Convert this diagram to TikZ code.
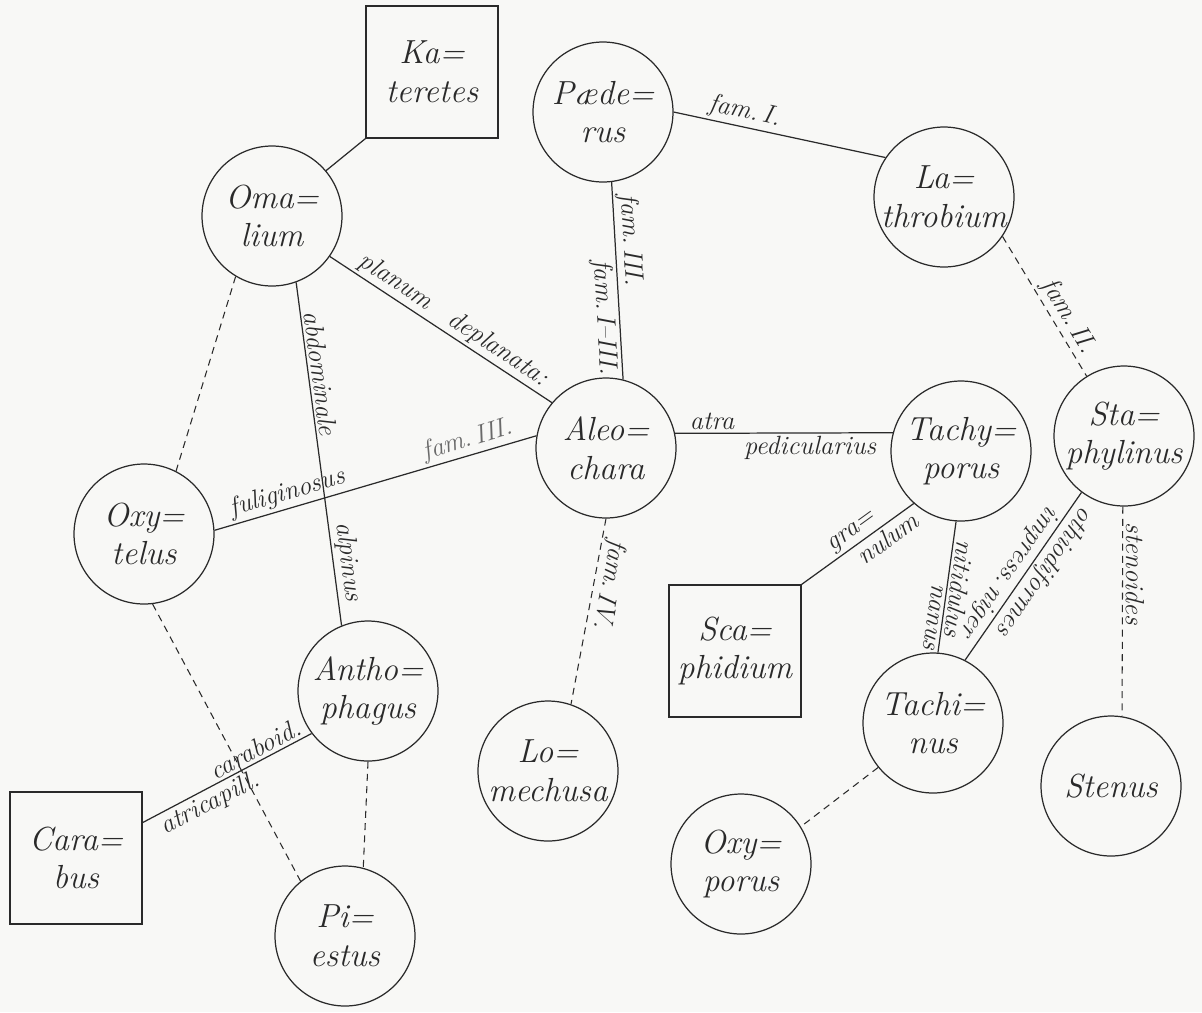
\documentclass[tikz,border=0pt]{standalone}
\usepackage{tikz}
\definecolor{Ink}{HTML}{2A2A2A}
\definecolor{Paper}{HTML}{F8F8F6}

\tikzset{
  genus/.style={circle,draw=Ink,line width=0.7pt,minimum size=2.8cm,inner sep=0pt},
  tribe/.style={rectangle,draw=Ink,line width=0.7pt,minimum width=2.64cm,minimum height=2.64cm,inner sep=0pt},
  gname/.style={align=center,text=Ink,font=\fontsize{19}{22}\selectfont\itshape},
  link/.style={draw=Ink,line width=0.7pt},
  loose/.style={draw=Ink,line width=0.6pt,dash pattern=on 4pt off 3pt},
  elabel/.style={sloped,allow upside down,text=Ink,inner sep=1.5pt,font=\fontsize{15}{17}\selectfont\itshape},
}

\begin{document}
\begin{tikzpicture}[x=0.02cm,y=-0.02cm]
  % paper
  \fill[Paper] (0,0) rectangle (1202,1012);
  \useasboundingbox (0,0) rectangle (1202,1012);

  % boxes
  \node[tribe,label={[gname]center:{Ka=\\teretes}}] (ka) at (432,72) {};
  \node[tribe,label={[gname]center:{Cara=\\bus}}] (ca) at (76,858) {};
  \node[tribe,label={[gname]center:{Sca=\\phidium}}] (sc) at (735,651) {};

  % circles
  \node[genus,label={[gname]center:{Oma=\\lium}}] (om) at (272,216) {};
  \node[genus,label={[gname]center:{P\ae de=\\rus}}] (pa) at (603,112) {};
  \node[genus,label={[gname]center:{La=\\throbium}}] (la) at (944,197) {};
  \node[genus,label={[gname]center:{Aleo=\\chara}}] (al) at (606,448) {};
  \node[genus,label={[gname]center:{Tachy=\\porus}}] (ta) at (961,451) {};
  \node[genus,label={[gname]center:{Sta=\\phylinus}}] (st) at (1124,436) {};
  \node[genus,label={[gname]center:{Oxy=\\telus}}] (ox) at (144,534) {};
  \node[genus,label={[gname]center:{Antho=\\phagus}}] (an) at (368,691) {};
  \node[genus,label={[gname]center:{Pi=\\estus}}] (pi) at (345,936) {};
  \node[genus,label={[gname]center:{Lo=\\mechusa}}] (lo) at (548,771) {};
  \node[genus,label={[gname]center:{Tachi=\\nus}}] (tc) at (933,723) {};
  \node[genus,label={[gname]center:{Oxy=\\porus}}] (oy) at (741,864) {};
  \node[genus,label={[gname]center:{Stenus}}] (sn) at (1111,786) {};

  % solid links
  \draw[link] (ka.south west) -- (om.40);
  \draw[link] (pa.0) -- (la.146)
    node[elabel,pos=0.32,above] {fam.\,I.};
  \draw[link] (pa.-83) -- (al.76)
    node[elabel,pos=0.30,above] {fam.\,III.}
    node[elabel,pos=0.68,below] {fam.\,I--III.};
  \draw[link] (om.-35) -- (al.140)
    node[elabel,pos=0.26,above] {planum}
    node[elabel,pos=0.72,above] {deplanata:};
  \draw[link] (om.-70) -- (an.112)
    node[elabel,pos=0.27,above] {abdominale}
    node[elabel,pos=0.82,above] {alpinus};
  \draw[link] (ox.3) -- (al.170)
    node[elabel,pos=0.24,above] {fuliginosus}
    node[elabel,pos=0.80,above,text=Ink!70] {fam.\,III.};
  \draw[link] (al.12) -- (ta.165)
    node[elabel,pos=0.17,above] {atra}
    node[elabel,pos=0.62,below] {pedicularius};
  \draw[link] (ca.28) -- (an.-143)
    node[elabel,pos=0.70,above] {caraboid.}
    node[elabel,pos=0.36,below] {atricapill.};
  \draw[link] (sc.north east) -- (ta.-132)
    node[elabel,pos=0.52,above] {gra=}
    node[elabel,pos=0.70,below] {nulum};
  \draw[link] (ta.-94) -- (tc.86)
    node[elabel,pos=0.50,above] {nitidulus}
    node[elabel,pos=0.74,below] {nanus};
  \draw[link] (st.-127) -- (tc.63)
    node[elabel,pos=0.52,below] {impress.\,niger}
    node[elabel,pos=0.42,above] {othiodiformes};

  % dashed links
  \draw[loose] (la.-34) -- (st.122)
    node[elabel,pos=0.63,above] {fam.\,II.};
  \draw[loose] (al.-90) -- (lo.71)
    node[elabel,pos=0.34,above] {fam.\,IV.};
  \draw[loose] (st.-91) -- (sn.81)
    node[elabel,pos=0.32,above] {stenoides};
  \draw[loose] (om.-121) -- (ox.63);
  \draw[loose] (ox.-83) -- (pi.129);
  \draw[loose] (an.-90) -- (pi.75);
  \draw[loose] (tc.-141) -- (oy.32);
\end{tikzpicture}
\end{document}
